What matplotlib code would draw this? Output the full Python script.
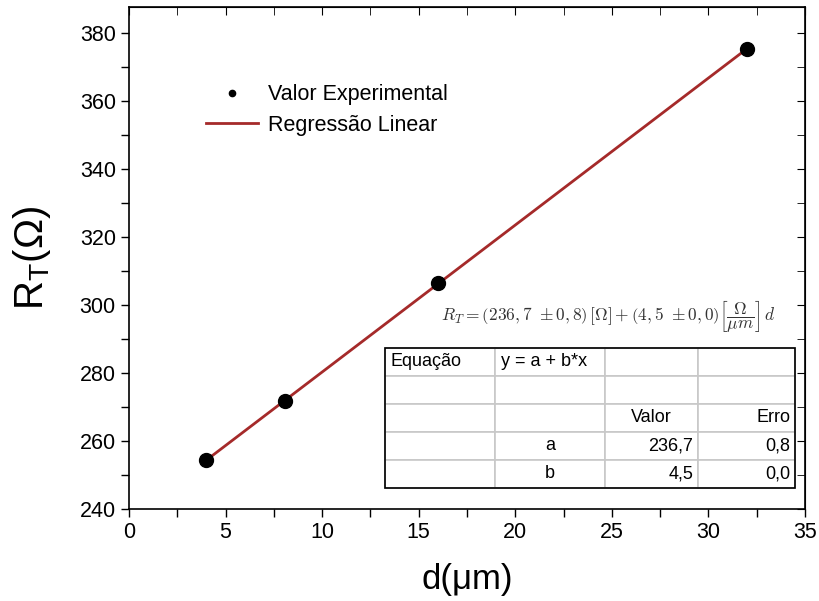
import numpy as np
import matplotlib
matplotlib.use("Agg")
import matplotlib.pyplot as plt
from matplotlib.ticker import MultipleLocator
from matplotlib.patches import Rectangle

plt.rcParams['font.family'] = ['Liberation Sans', 'DejaVu Sans']

# data
d_um = [4.0, 8.1, 16.0, 32.0]
R_T = [254.5, 271.8, 306.5, 375.5]
table_rows = [
    ["Equação", "y = a + b*x", "", ""],
    ["", "", "", ""],
    ["", "", "Valor", "Erro"],
    ["", "a", "236,7", "0,8"],
    ["", "b", "4,5", "0,0"],
]

fig = plt.figure(figsize=(8.2, 6.01), dpi=100)
ax = fig.add_axes([129/820, 1-509/601, 676/820, 502/601])

# fit
coef = np.polyfit(d_um, R_T, 1)
xfit = np.array([min(d_um), max(d_um)])
ax.plot(xfit, np.polyval(coef, xfit), color='#a52a2a', lw=2, label='Regressão Linear', zorder=2)
ax.plot(d_um, R_T, 'o', color='black', ms=10, label='Valor Experimental', zorder=3, linestyle='none')

ax.set_xlim(0, 35)
ax.set_ylim(240, 387.8)
ax.xaxis.set_major_locator(MultipleLocator(5))
ax.xaxis.set_minor_locator(MultipleLocator(2.5))
ax.yaxis.set_major_locator(MultipleLocator(20))
ax.yaxis.set_minor_locator(MultipleLocator(10))
ax.tick_params(which='both', direction='out', length=6, width=1, labelsize=15.5)
for s in ax.spines.values():
    s.set_linewidth(1.2)

secx = ax.secondary_xaxis('top')
secx.xaxis.set_major_locator(MultipleLocator(5))
secx.xaxis.set_minor_locator(MultipleLocator(2.5))
secx.tick_params(which='both', direction='in', length=6, labeltop=False)
secy = ax.secondary_yaxis('right')
secy.yaxis.set_major_locator(MultipleLocator(20))
secy.yaxis.set_minor_locator(MultipleLocator(10))
secy.tick_params(which='both', direction='in', length=6, labelright=False)

ax.set_xlabel('d(μm)', fontsize=25, labelpad=14)
ax.set_ylabel('R$_\\mathregular{T}$(Ω)', fontsize=29, labelpad=19)

handles, labels = ax.get_legend_handles_labels()
leg = ax.legend([handles[1], handles[0]], [labels[1], labels[0]],
                loc='upper left', bbox_to_anchor=(0.085, 0.885), frameon=False,
                fontsize=15.5, markerscale=0.45, handlelength=2.4, handletextpad=0.5,
                labelspacing=0.45)

ax.text(0.462, 0.385,
        r'$R_T=\left(236,7\ \pm 0,8\right)\,[\Omega]+\left(4,5\ \pm 0,0\right)\left[\dfrac{\Omega}{\mu m}\right]\,d$',
        transform=ax.transAxes, fontsize=12.5, math_fontfamily='cm', va='center', ha='left', color='#333333')

# table
tl, tr, tt, tb = 0.379, 0.985, 0.321, 0.042
widths = [110, 110, 93, 97]
tot = sum(widths)
colw = [w/tot*(tr-tl) for w in widths]
tab = ax.table(cellText=table_rows, colWidths=colw, bbox=[tl, tb, tr-tl, tt-tb], zorder=5)
tab.auto_set_font_size(False)
tab.set_fontsize(13)
aligns = {(0, 0): 'left', (0, 1): 'left', (2, 2): 'center', (2, 3): 'right',
          (3, 1): 'center', (3, 2): 'right', (3, 3): 'right',
          (4, 1): 'center', (4, 2): 'right', (4, 3): 'right'}
for (r, c), cell in tab.get_celld().items():
    cell.set_edgecolor('#c8c8c8')
    cell.set_linewidth(1.2)
    cell.set_facecolor('white')
    cell.get_text().set_ha(aligns.get((r, c), 'left'))
    cell.PAD = 0.05
ax.add_patch(Rectangle((tl, tb), tr-tl, tt-tb, transform=ax.transAxes, fill=False,
                       edgecolor='black', lw=1.2, zorder=6))

fig.savefig('out.png', dpi=100)
